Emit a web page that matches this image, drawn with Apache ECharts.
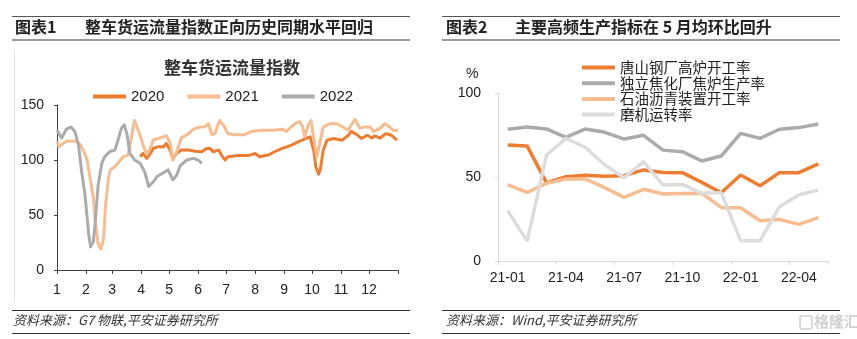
<!DOCTYPE html>
<html><head><meta charset="utf-8">
<script src="https://cdn.jsdelivr.net/npm/echarts@6/dist/echarts.min.js"></script>
<style>html,body{margin:0;padding:0;background:#fff}#c{width:857px;height:339px}</style>
</head><body><div id="c"></div>
<script>
// ---- Chart 1: 整车货运流量指数 (x = day of year) ----
const monthTicks = [0,31,59,90,120,151,181,212,243,273,304,334,365];
const monthLabels = ['1','2','3','4','5','6','7','8','9','10','11','12'];
const days2020 = [89,92,96,100,103,108,114,117,121,124,128,133,141,148,155,160,164,167,173,176,180,183,185,194,205,212,217,226,233,241,246,251,258,265,271,273,275,277,280,282,285,289,296,305,312,315,321,326,332,337,340,346,352,358,364];
const vals2020 = [103,106,101.5,106,110.5,112,112,115,109,101.5,106,109,109,108,107.5,110.5,110.5,107.5,109,104.5,100,103,104.5,104,104,106,103,104.5,107.5,110.5,112,113.5,116.5,119,121,122.5,108,94,87,92,109,118,119.5,118,122.5,126,123,119.5,122.5,120,122,120,124,122.5,118];
const days2021 = [0,2,5,10,16,21,25,28,32,35,39,41,44,47,50,52,55,57,62,66,71,76,79,82,83,86,90,92,96,100,103,110,117,121,124,128,133,141,146,153,158,162,166,169,174,178,183,191,201,208,219,230,241,246,249,255,260,263,265,269,272,274,278,281,285,292,299,306,312,315,319,324,330,335,339,346,351,356,360,365];
const vals2021 = [117,112,114,117,117,117,114,109,101,86,65,44,24,19,29,59,83,91,94,98,103,104.5,117,132,136,129,120,114,105,111,118,120,122,116,100,107,120,124,128,130,130,133,123,124,136,132,124,123,123,126,127,127,128,126,129,133,135,130,121,132,136,124,103,114,130,133,133,130,127,132,137,129,130,130,126,129,133,130,127,127];
const days2022 = [0,5,10,15,19,23,26,30,34,36,39,41,44,48,51,57,62,66,69,72,75,78,83,89,94,98,103,107,113,119,124,128,132,139,146,151,155];
const vals2022 = [127,120,128,130,126,114,92,68,32,21,26,44,77,97,103,108,109,120,129,132,123,106,100,97,89,76,80,85,88,91,82,86,95,100,101.5,100,97];

// ---- Chart 2: 主要高频生产指标 ----
const months2 = ['21-01','21-02','21-03','21-04','21-05','21-06','21-07','21-08','21-09','21-10','21-11','21-12','22-01','22-02','22-03','22-04','22-05'];
const tangshan = [69.0,68.5,46.5,50.2,51.0,50.5,50.8,54.2,52.7,52.6,46.8,40.6,51.2,44.8,52.6,52.6,57.8];
const coking   = [78.4,79.8,78.6,73.6,78.6,76.6,72.6,74.8,66.0,65.1,59.5,62.5,76.0,73.0,78.4,79.4,81.6];
const asphalt  = [45.5,40.9,46.2,48.8,48.8,43.7,37.9,42.7,39.9,40.2,40.3,31.9,31.7,24.0,24.8,21.8,25.8];
const grinding = [30.0,11.8,63.1,73.0,67.7,57.1,49.6,59.1,45.2,45.6,40.3,40.7,12.1,12.1,32.3,39.3,42.3];

const zip = (xs, ys) => xs.map((x, i) => [x, ys[i]]);
const NUM = 'Liberation Sans, Arial, Noto Sans CJK SC, sans-serif';
const CJK = 'Noto Sans CJK SC, Liberation Sans, sans-serif';
const C_DARK = '#ED7D31', C_LIGHT = '#F7BC8F', C_GRAY = '#ABABAB', C_LGRAY = '#DCDCDC';

const chart = echarts.init(document.getElementById('c'), null, {renderer: 'canvas'});

function line(x1, y1, x2, y2, stroke, w) {
  return {type: 'line', silent: true, shape: {x1, y1, x2, y2}, style: {stroke, lineWidth: w}};
}
function txt(left, top, text, font, fill) {
  return {type: 'text', left, top, silent: true, style: {text, font, fill}};
}

chart.setOption({
  animation: false,
  backgroundColor: '#fff',
  title: [{
    text: '整车货运流量指数', left: 227, top: 54, textAlign: 'center',
    textStyle: {fontFamily: CJK, fontSize: 17, fontWeight: 'bold', color: '#333'}
  }],
  legend: [{
    data: ['2020', '2021', '2022'], left: 88, top: 84, icon: 'rect',
    itemWidth: 33, itemHeight: 4, itemGap: 23,
    textStyle: {fontFamily: NUM, fontSize: 15, color: '#222'}
  }, {
    data: ['唐山钢厂高炉开工率', '独立焦化厂焦炉生产率', '石油沥青装置开工率', '磨机运转率'],
    left: 577, top: 55, orient: 'vertical', icon: 'rect',
    itemWidth: 33, itemHeight: 4, itemGap: 0.7,
    textStyle: {fontFamily: CJK, fontSize: 14.5, color: '#222', lineHeight: 15}
  }],
  grid: [
    {left: 57, top: 105, width: 341, height: 165},
    {left: 498, top: 93, width: 330, height: 168}
  ],
  xAxis: [{
    gridIndex: 0, type: 'value', min: 0, max: 365,
    axisLine: {lineStyle: {color: '#404040', width: 1}},
    axisTick: {show: true, length: 4, customValues: monthTicks, lineStyle: {color: '#404040'}},
    axisLabel: {customValues: monthTicks.slice(0, 12), margin: 13,
      formatter: v => monthLabels[monthTicks.indexOf(v)],
      fontFamily: NUM, fontSize: 14, color: '#222'},
    splitLine: {show: false}
  }, {
    gridIndex: 1, type: 'category', data: months2, boundaryGap: true,
    axisLine: {lineStyle: {color: '#D9D9D9', width: 1}},
    axisTick: {show: true, length: 4, interval: 2, lineStyle: {color: '#D9D9D9'}},
    axisLabel: {interval: 2, margin: 10, fontFamily: NUM, fontSize: 14, color: '#222'},
    splitLine: {show: false}
  }],
  yAxis: [{
    gridIndex: 0, type: 'value', min: 0, max: 150, interval: 50,
    axisLine: {show: true, lineStyle: {color: '#404040', width: 1}},
    axisTick: {show: true, length: 3, lineStyle: {color: '#404040'}},
    axisLabel: {margin: 13, fontFamily: NUM, fontSize: 14, color: '#222'},
    splitLine: {show: false}
  }, {
    gridIndex: 1, type: 'value', min: 0, max: 100, interval: 50,
    axisLine: {show: true, lineStyle: {color: '#D9D9D9', width: 1}},
    axisTick: {show: true, length: 3, lineStyle: {color: '#D9D9D9'}},
    axisLabel: {margin: 17, fontFamily: NUM, fontSize: 14, color: '#222'},
    splitLine: {show: false}
  }],
  series: [
    {name: '2020', type: 'line', xAxisIndex: 0, yAxisIndex: 0, data: zip(days2020, vals2020),
      showSymbol: false, color: C_DARK, lineStyle: {width: 3, color: C_DARK, join: 'round'}},
    {name: '2021', type: 'line', xAxisIndex: 0, yAxisIndex: 0, data: zip(days2021, vals2021),
      showSymbol: false, color: C_LIGHT, lineStyle: {width: 3, color: C_LIGHT, join: 'round'}},
    {name: '2022', type: 'line', xAxisIndex: 0, yAxisIndex: 0, data: zip(days2022, vals2022),
      showSymbol: false, color: C_GRAY, lineStyle: {width: 3, color: C_GRAY, join: 'round'}},
    {name: '唐山钢厂高炉开工率', type: 'line', xAxisIndex: 1, yAxisIndex: 1, data: tangshan,
      showSymbol: false, color: C_DARK, lineStyle: {width: 3.5, color: C_DARK}},
    {name: '独立焦化厂焦炉生产率', type: 'line', xAxisIndex: 1, yAxisIndex: 1, data: coking,
      showSymbol: false, color: C_GRAY, lineStyle: {width: 3.5, color: C_GRAY}},
    {name: '石油沥青装置开工率', type: 'line', xAxisIndex: 1, yAxisIndex: 1, data: asphalt,
      showSymbol: false, color: C_LIGHT, lineStyle: {width: 3.5, color: C_LIGHT}},
    {name: '磨机运转率', type: 'line', xAxisIndex: 1, yAxisIndex: 1, data: grinding,
      showSymbol: false, color: C_LGRAY, lineStyle: {width: 3.5, color: C_LGRAY}}
  ],
  graphic: [
    // header rules
    line(12, 16.5, 410, 16.5, '#555', 1),
    line(12, 40, 410, 40, '#9a9a9a', 2),
    line(442, 16.5, 840, 16.5, '#555', 1),
    line(442, 40, 840, 40, '#9a9a9a', 2),
    // header texts
    txt(15, 19, '图表1', 'bold 16px ' + CJK, '#222'),
    txt(85, 19, '整车货运流量指数正向历史同期水平回归', 'bold 16px ' + CJK, '#222'),
    txt(446, 19, '图表2', 'bold 16px ' + CJK, '#222'),
    txt(515, 19, '主要高频生产指标在 5 月均环比回升', 'bold 16px ' + CJK, '#222'),
    // left image border
    line(14.5, 50, 14.5, 302, '#e2e2e2', 1),
    // % unit
    txt(466, 67, '%', '14px ' + NUM, '#222'),
    // source rules and texts
    line(12, 310.5, 410, 310.5, '#333', 1),
    line(12, 333.5, 410, 333.5, '#333', 1),
    line(442, 310.5, 840, 310.5, '#333', 1),
    line(442, 333.5, 840, 333.5, '#333', 1),
    txt(13, 314, '资料来源：G7 物联,平安证券研究所', 'italic 13px ' + CJK, '#333'),
    txt(446, 314, '资料来源：Wind,平安证券研究所', 'italic 13px ' + CJK, '#333'),
    // watermark
    {type: 'rect', silent: true, shape: {x: 800, y: 316, width: 12, height: 13, r: 2},
      style: {fill: 'none', stroke: '#cfcfcf', lineWidth: 1.5}},
    txt(814, 314, '格隆汇', 'bold 15px ' + CJK, '#cfcfcf')
  ]
});
</script>
</body></html>
